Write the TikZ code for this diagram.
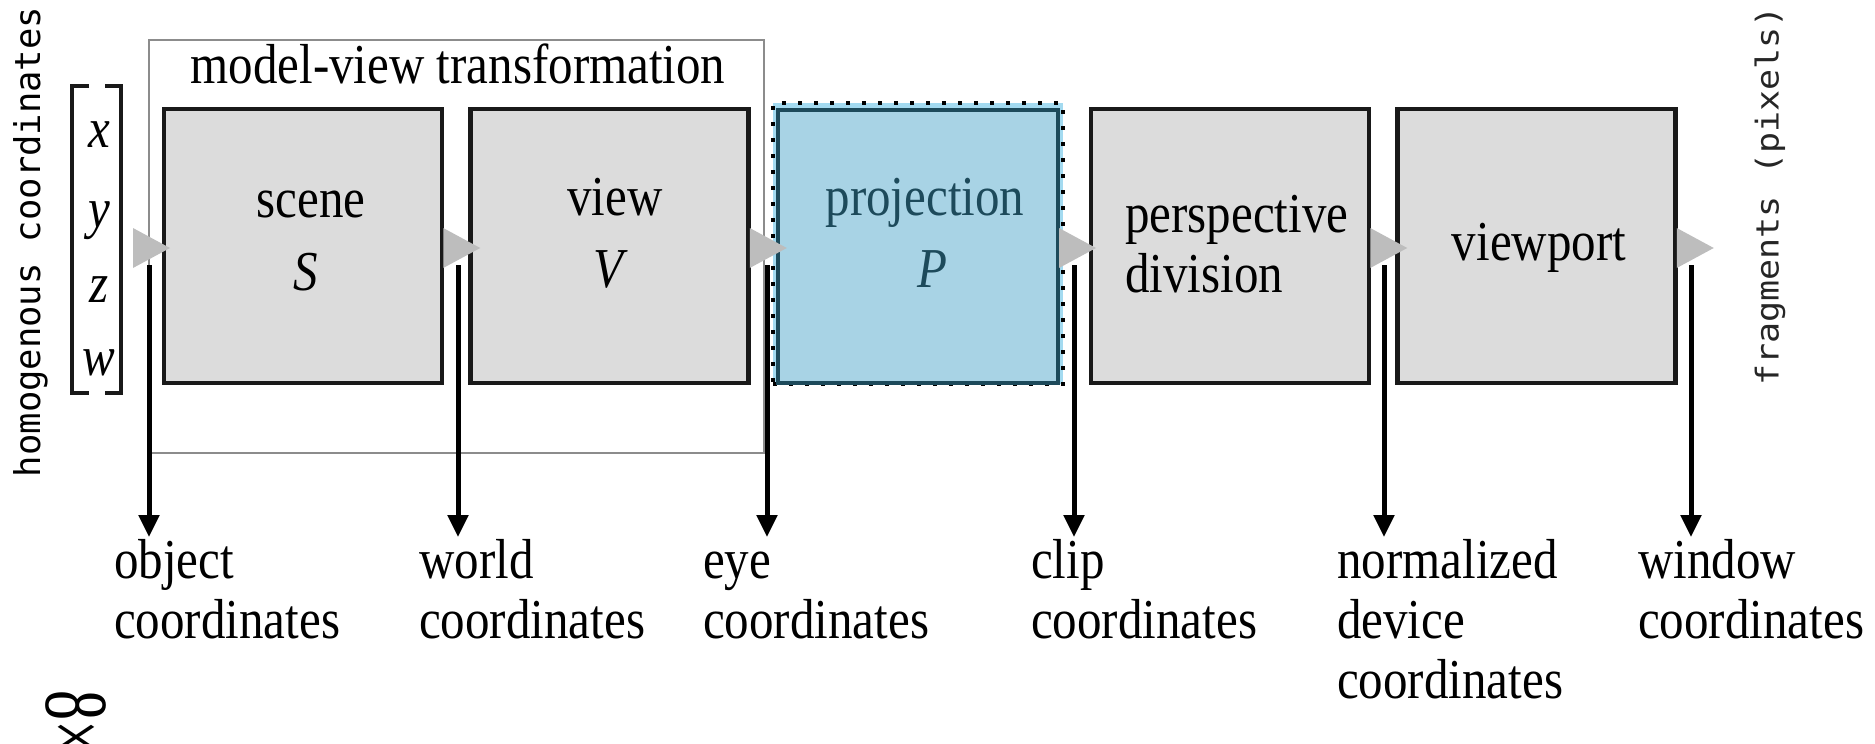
\documentclass[tikz,border=0pt]{standalone}
\usepackage{fontspec}
\setmainfont{Liberation Serif}
\newfontfamily\monof{DejaVu Sans Mono}
\usetikzlibrary{arrows.meta}

\definecolor{boxgray}{HTML}{DCDCDC}
\definecolor{trigray}{HTML}{BDBDBD}
\definecolor{projfill}{HTML}{A8D3E5}
\definecolor{projedge}{HTML}{1D4A5B}
\definecolor{projhalo}{HTML}{A3DAF0}
\definecolor{mvgray}{HTML}{8C8C8C}

% serif text, slightly taller than wide
\newcommand\bigserif{\fontsize{49}{52.2}\selectfont}
\newcommand\tallt[1]{\scalebox{1}[1.15]{#1}}
\newcommand\twolines[2]{\tallt{\vtop{\hbox{#1}\hbox{#2}}}}
\newcommand\threelines[3]{\tallt{\vtop{\hbox{#1}\hbox{#2}\hbox{#3}}}}

\begin{document}
\begin{tikzpicture}[x=1pt,y=-1pt,
  stagebox/.style={draw=black!90, line width=4.5pt, fill=boxgray,
    minimum width=278pt, minimum height=274pt, inner sep=0pt},
  txt/.style={inner sep=0pt, font=\bigserif, anchor=base},
  lbl/.style={inner sep=0pt, font=\bigserif, anchor=base west},
  tri/.style={fill=trigray},
  down/.style={line width=5pt, -{Triangle[width=20pt,length=22pt]}},
  brk/.style={line width=4.5pt, black!90}
]
\useasboundingbox (0,0) rectangle (1875,744);

% model-view frame
\node[draw=mvgray, line width=2.5pt, minimum width=615pt, minimum height=413pt,
      inner sep=0pt] (mv) at (456.5,246.5) {};
\node[txt] (mvt) at (458,83) {\tallt{model-view transformation}};

% homogeneous coordinate vector
\draw[brk] (89,86) -- (72,86) -- (72,393) -- (89,393);
\draw[brk] (105,86) -- (121,86) -- (121,393) -- (105,393);
\node[txt] (vx) at (99,147) {\tallt{\textit{x}}};
\node[txt] (vy) at (99,227) {\tallt{\textit{y}}};
\node[txt] (vz) at (99,302) {\tallt{\textit{z}}};
\node[txt] (vw) at (99,375) {\tallt{\textit{w}}};

% pipeline stages
\node[stagebox] (scene) at (303,246) {};
\node[stagebox] (view) at (609.5,246) {};
\node[draw=black, line width=4pt, dash pattern=on 4pt off 12pt, fill=projhalo,
      minimum width=290pt, minimum height=281pt, inner sep=0pt] (projo) at (918,243.5) {};
\node[draw=projedge, line width=4pt, fill=projfill,
      minimum width=280pt, minimum height=273pt, inner sep=0pt] (proj) at (918,246) {};
\node[stagebox] (persp) at (1230,246) {};
\node[stagebox] (vport) at (1536.5,246) {};

% stage texts
\node[txt] (scenet) at (311,217) {\tallt{scene}};
\node[txt] (sceneS) at (306,290) {\tallt{\textit{S}}};
\node[txt] (viewt) at (615,215) {\tallt{view}};
\node[txt] (viewV) at (611,287) {\tallt{\textit{V}}};
\node[txt, text=projedge] (projt) at (925,215) {\tallt{projection}};
\node[txt, text=projedge] (projP) at (932,287) {\tallt{\textit{P}}};
\node[lbl] (perspt) at (1125,232) {\twolines{perspective}{division}};
\node[txt] (vportt) at (1539,260) {\tallt{viewport}};

% grey flow arrows between stages
\coordinate (in) at (133,248);
\fill[tri] (in) ++(0,-20) -- ++(37,20) -- ++(-37,20) -- cycle;
\foreach \s in {scene,view,proj,persp,vport}{
  \fill[tri] (\s.east) ++(-1,-18) -- ++(37,20) -- ++(-37,20) -- cycle;
}

% coordinate-system taps
\foreach \i/\x in {1/149,2/458,3/767,4/1074,5/1384,6/1691}{
  \coordinate (t\i) at (\x,265);
  \coordinate (b\i) at (\x,537);
}
\foreach \i in {1,...,6}{ \draw[down] (t\i) -- (b\i); }

% coordinate-system names
\node[lbl] (l1) at (114,578) {\twolines{object}{coordinates}};
\node[lbl] (l2) at (419,578) {\twolines{world}{coordinates}};
\node[lbl] (l3) at (703,578) {\twolines{eye}{coordinates}};
\node[lbl] (l4) at (1031,578) {\twolines{clip}{coordinates}};
\node[lbl] (l5) at (1337,578) {\threelines{normalized}{device}{coordinates}};
\node[lbl] (l6) at (1638,578) {\twolines{window}{coordinates}};

% side captions
\node[rotate=90, anchor=base, inner sep=0pt,
      font=\monof\fontsize{35.5}{40}\selectfont] (homog) at (40,242) {homogenous coordinates};
\node[rotate=90, anchor=center, inner sep=0pt, text=black!85,
      font=\monof\fontsize{35}{40}\selectfont] (frag) at (1770,196) {\scalebox{1}[0.9]{fragments (pixels)}};

% cut-off caption at the lower left
\node[rotate=-90, anchor=base west, inner sep=0pt,
      font=\fontsize{60}{64}\selectfont] (cut) at (46,690) {\scalebox{1}[1.5]{8×1}};
\end{tikzpicture}
\end{document}
